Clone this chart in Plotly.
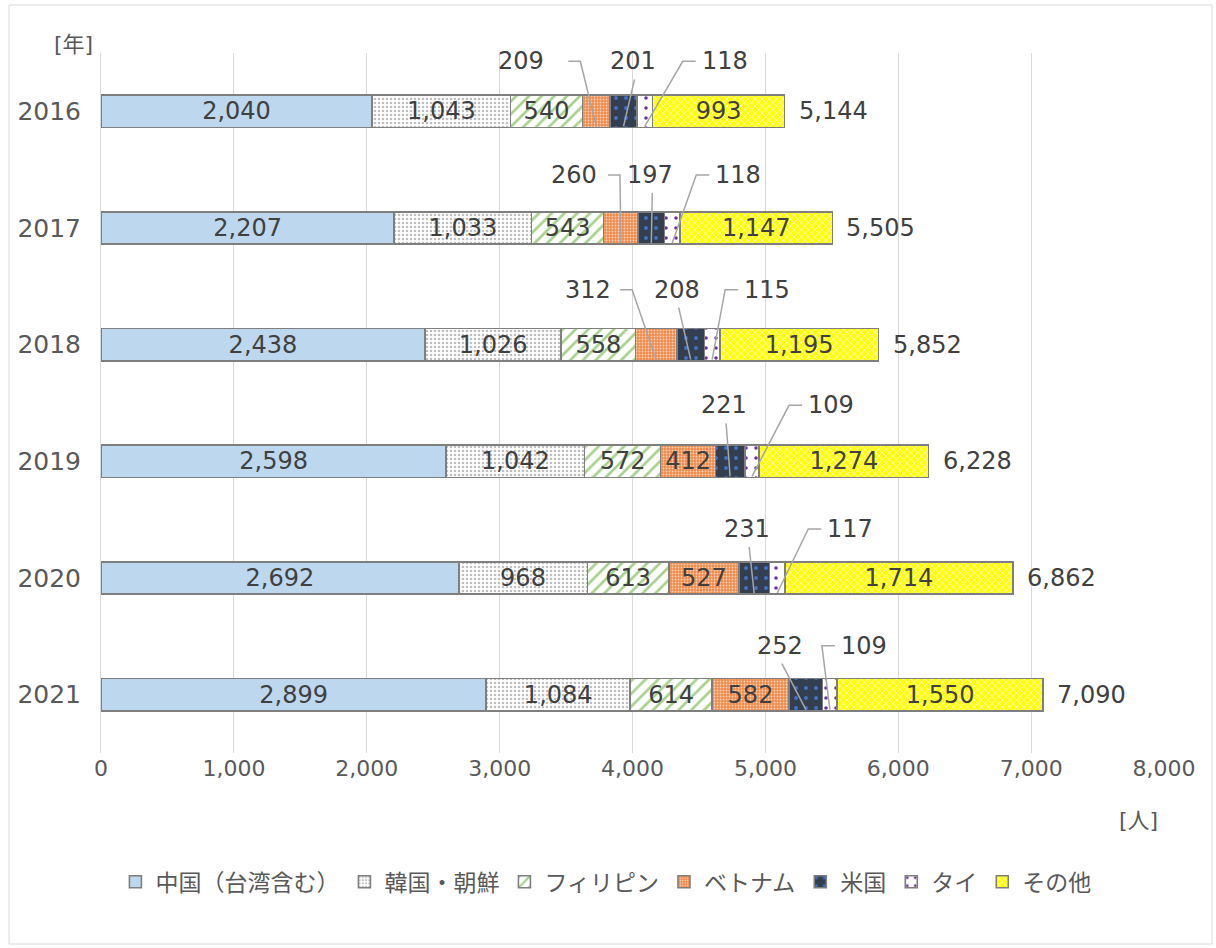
import plotly.graph_objects as go

# ---------------- data ----------------
years = ["2016", "2017", "2018", "2019", "2020", "2021"]
china = [2040, 2207, 2438, 2598, 2692, 2899]
korea = [1043, 1033, 1026, 1042, 968, 1084]
philippines = [540, 543, 558, 572, 613, 614]
vietnam = [209, 260, 312, 412, 527, 582]
usa = [201, 197, 208, 221, 231, 252]
thailand = [118, 118, 115, 109, 117, 109]
others = [993, 1147, 1195, 1274, 1714, 1550]
series_names = ["中国（台湾含む）", "韓国・朝鮮", "フィリピン", "ベトナム", "米国", "タイ", "その他"]
x_tick_values = [0, 1000, 2000, 3000, 4000, 5000, 6000, 7000, 8000]
x_tick_labels = ["0", "1,000", "2,000", "3,000", "4,000", "5,000", "6,000", "7,000", "8,000"]

series_values = [china, korea, philippines, vietnam, usa, thailand, others]
rows = list(range(len(years)))
totals = [sum(v[i] for v in series_values) for i in rows]

# ---------------- styles ----------------
FONT = "DejaVu Sans, Noto Sans CJK JP, sans-serif"
TXT = "#404040"
LAB = "#595959"
styles = [
    dict(bg="#BDD7EE", fg="#BDD7EE", shape="", size=8, sol=0.3),
    dict(bg="#FFFFFF", fg="#BFBFBF", shape=".", size=4, sol=0.35),
    dict(bg="#FFFFFF", fg="#A9D18E", shape="/", size=9, sol=0.3),
    dict(bg="#F08A4B", fg="#FAD3B8", shape=".", size=3, sol=0.3),
    dict(bg="#333F50", fg="#4472C4", shape=".", size=10, sol=0.12),
    dict(bg="#FFFFFF", fg="#7030A0", shape=".", size=10, sol=0.1),
    dict(bg="#FFFF00", fg="#FFFFFF", shape="x", size=5, sol=0.25),
]
callout_viet_rows = [0, 1, 2]

fig = go.Figure()
for k, (name, vals, st) in enumerate(zip(series_names, series_values, styles)):
    texts = []
    for i in rows:
        if k in (4, 5) or (k == 3 and i in callout_viet_rows):
            texts.append("")
        else:
            texts.append(f"{vals[i]:,}")
    pattern = dict(shape=st["shape"], fgcolor=st["fg"], bgcolor=st["bg"],
                   size=st["size"], solidity=st["sol"], fillmode="replace")
    fig.add_trace(go.Bar(
        name=name, y=rows, x=vals, orientation="h", width=0.275,
        marker=dict(color=st["bg"], pattern=pattern,
                    line=dict(color="#7F7F7F", width=1.6)),
        text=texts, textposition="inside", insidetextanchor="middle",
        constraintext="none", textangle=0,
        textfont=dict(family=FONT, size=24, color=TXT),
        hoverinfo="skip", cliponaxis=False,
    ))

# ---------------- geometry helpers ----------------
PX_X = 8000 / 1063.0   # data units per px horizontally
PX_Y = 6 / 700.0       # category units per px vertically


def cum_before(k, i):
    return sum(series_values[j][i] for j in range(k))


def seg_center(k, i):
    return cum_before(k, i) + series_values[k][i] / 2.0


annotations = []
shapes = []
LINE = dict(color="#A6A6A6", width=1.5)

label_dy_px = [50, 53, 55, 56, 49, 49]
viet_dx_px = [-75, -47, -68]
viet_stub_px = [47, 34, 32]
us_dx_px = [9, -1, -14, -6, -7, -26]
thai_dx_px = [80, 66, 55, 79, 73, 34]
bar_bottom_px = 15


def callout_label(x, y, val):
    annotations.append(dict(x=x, y=y, xref="x", yref="y", text=f"{val:,}",
                            showarrow=False, font=dict(family=FONT, size=24, color=TXT)))


for i in rows:
    ly = i - label_dy_px[i] * PX_Y
    yb = i + bar_bottom_px * PX_Y
    if i in callout_viet_rows:
        c = seg_center(3, i)
        lx = c + viet_dx_px[i] * PX_X
        callout_label(lx, ly, vietnam[i])
        s0 = lx + viet_stub_px[i] * PX_X
        s1 = s0 + 12 * PX_X
        shapes.append(dict(type="path", xref="x", yref="y", line=LINE,
                           path=f"M {s0},{ly} L {s1},{ly} L {c},{yb}"))
    c = seg_center(4, i)
    lx = c + us_dx_px[i] * PX_X
    callout_label(lx, ly, usa[i])
    shapes.append(dict(type="line", xref="x", yref="y", line=LINE,
                       x0=lx + 2 * PX_X, y0=ly + 18 * PX_Y, x1=c, y1=yb))
    c = seg_center(5, i)
    lx = c + thai_dx_px[i] * PX_X
    callout_label(lx, ly, thailand[i])
    s1 = lx - 29 * PX_X
    s0 = lx - 42 * PX_X
    shapes.append(dict(type="path", xref="x", yref="y", line=LINE,
                       path=f"M {s1},{ly} L {s0},{ly} L {c},{yb}"))
    annotations.append(dict(x=totals[i], y=i, xref="x", yref="y", text=f"{totals[i]:,}",
                            xanchor="left", xshift=12, showarrow=False,
                            font=dict(family=FONT, size=24, color=TXT)))

annotations.append(dict(x=-0.046, y=1.033, xref="paper", yref="paper", text="[年]",
                        showarrow=False, font=dict(family=FONT, size=22, color=LAB)))
annotations.append(dict(x=0.996, y=-0.117, xref="paper", yref="paper", text="[人]",
                        showarrow=False, font=dict(family=FONT, size=22, color=LAB)))

shapes.append(dict(type="rect", xref="paper", yref="paper", x0=-0.0865, x1=1.0452,
                   y0=-0.2729, y1=1.0686, line=dict(color="#D9D9D9", width=1), layer="below"))

fig.update_layout(
    width=1216, height=948,
    margin=dict(l=101, r=52, t=53, b=195),
    barmode="stack",
    plot_bgcolor="white", paper_bgcolor="white",
    font=dict(family=FONT, color=LAB),
    showlegend=True,
    legend=dict(orientation="h", x=0.475, xanchor="center", y=-0.184, yanchor="middle",
                traceorder="normal", font=dict(family=FONT, size=23, color=LAB),
                itemwidth=30),
    xaxis=dict(range=[0, 8000], tickvals=x_tick_values, ticktext=x_tick_labels,
               showgrid=True, gridcolor="#D9D9D9", gridwidth=1, zeroline=False,
               showline=False, ticks="", tickfont=dict(family=FONT, size=22, color=LAB),
               fixedrange=True),
    yaxis=dict(range=[5.5, -0.5], tickvals=rows, ticktext=years, showgrid=False,
               zeroline=False, showline=True, linecolor="#D9D9D9", linewidth=1,
               ticks="", ticklabelstandoff=14,
               tickfont=dict(family=FONT, size=25, color=LAB), fixedrange=True),
    annotations=annotations,
    shapes=shapes,
)

fig.write_html("out.html", config={"displayModeBar": False},
               post_script="document.body.style.margin='0';document.body.style.overflow='hidden';")
